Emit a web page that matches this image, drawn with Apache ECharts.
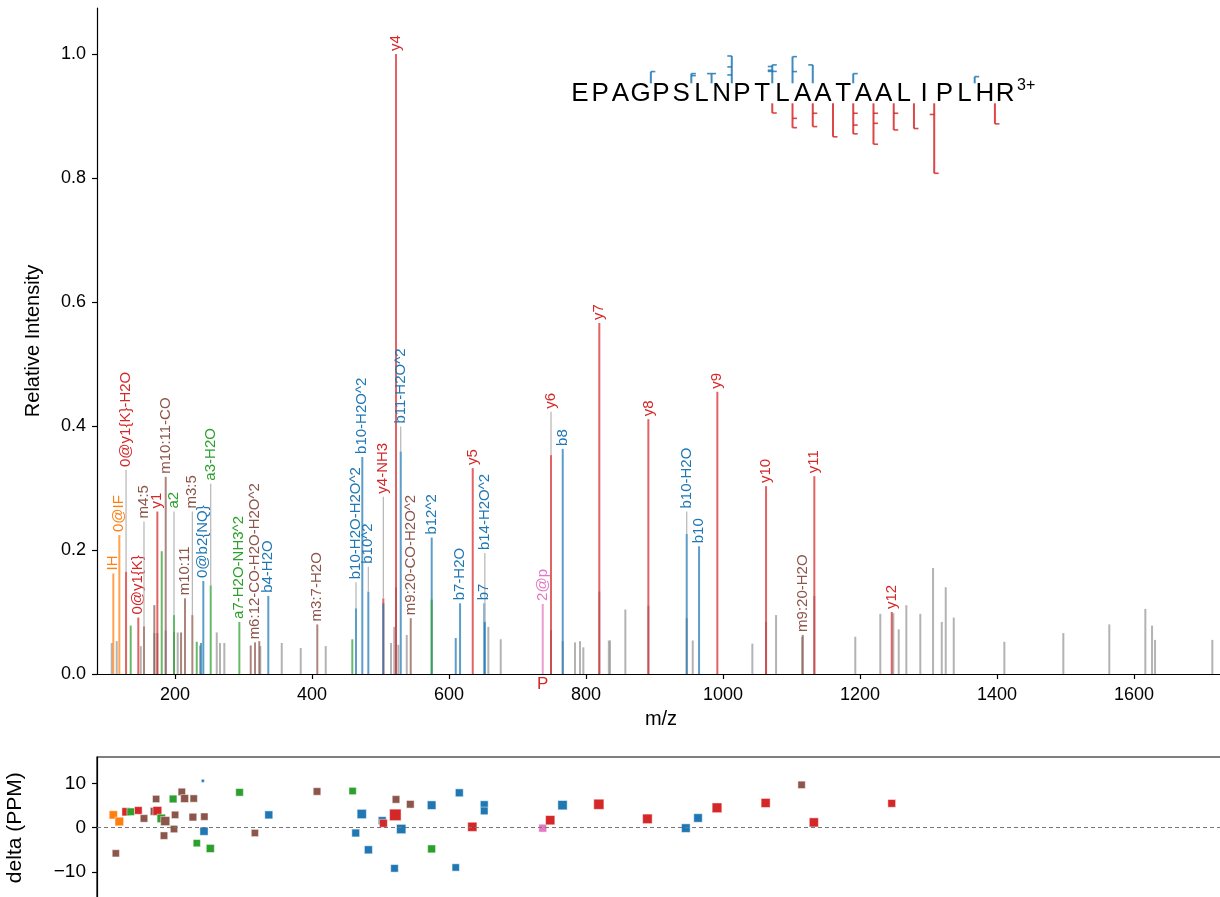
<!DOCTYPE html>
<html><head><meta charset="utf-8">
<script src="https://cdn.jsdelivr.net/npm/echarts@6/dist/echarts.min.js"></script>
<style>html,body{margin:0;padding:0;background:#fff}#c{width:1220px;height:897px}</style>
</head><body><div id="c"></div>
<script>
// ---------- DATA ----------
// unassigned peaks
const unMz  = [107.6,114.9,150,169.8,174.2,186.4,198.5,203.9,236.5,260.9,265.7,272,324.5,355.8,383.5,420,515.3,520.1,522.6,526,538.3,657.4,675.5,748.9,766,783.9,791.2,796.1,819.4,833.3,835,857.4,891,947,955.8,1042.8,1062.8,1077.4,1115.5,1133.3,1193.1,1229.6,1248.6,1256.5,1267.6,1288,1306.6,1319.3,1325.1,1336.8,1410.7,1496.8,1563.9,1616.5,1626.3,1630.7,1714.3];
const unInt = [0.05,0.053,0.045,0.066,0.066,0.07,0.068,0.067,0.046,0.067,0.05,0.05,0.045,0.05,0.042,0.045,0.05,0.076,0.14,0.047,0.063,0.076,0.056,0.071,0.053,0.051,0.053,0.043,0.133,0.054,0.054,0.104,0.11,0.09,0.054,0.049,0.084,0.095,0.06,0.126,0.06,0.097,0.098,0.072,0.111,0.097,0.171,0.084,0.14,0.091,0.052,0.066,0.08,0.105,0.078,0.055,0.055];

// annotated peaks
const annMz    = [109.9,118.7,128.5,135.3,146.4,154.7,169.8,174.2,180.6,186.4,198.5,208.8,214.6,225.3,231.7,238,241.3,252.1,293.9,310.5,316.8,323,336.2,407.7,458.8,464.2,473.4,482.2,504.1,504.1,522.6,529.5,544.1,574.7,574.7,609.8,616.1,634.6,652.3,651.5,736.8,748.9,766,819.4,891,947,965,991.7,1062.8,1116.4,1133.3,1246.3];
const annInt   = [0.162,0.224,0.165,0.078,0.091,0.077,0.111,0.262,0.198,0.318,0.095,0.067,0.122,0.095,0.052,0.05,0.15,0.143,0.084,0.046,0.051,0.053,0.126,0.08,0.056,0.106,0.35,0.133,0.122,0.114,1.0,0.359,0.09,0.22,0.12,0.058,0.114,0.332,0.084,0.114,0.113,0.353,0.363,0.566,0.411,0.226,0.206,0.455,0.303,0.063,0.319,0.1];
const annType  = ['IH','IH','y','a','y','int','int','y','a','int','a','int','int','int','a','b','b','a','a','int','int','int','b','int','a','b','b','b','y','b','y','b','int','b','a','b','b','y','b','b','p','y','b','y','y','b','b','y','y','int','y','y'];
const annLabel = ['IH','0@IF','0@y1{K}-H2O','','0@y1{K}','m4:5','','y1','','m10:11-CO','a2','','m10:11','m3:5','','','0@b2{NQ}','a3-H2O','a7-H2O-NH3^2','','m6:12-CO-H2O-H2O^2','','b4-H2O','m3:7-H2O','','b10-H2O-H2O^2','b10-H2O^2','b10^2','y4-NH3','','y4','b11-H2O^2','m9:20-CO-H2O^2','b12^2','','','b7-H2O','y5','b14-H2O^2','b7','2@p','y6','b8','y7','y8','b10-H2O','b10','y9','y10','m9:20-H2O','y11','y12'];
const annLabelAt = [0,0,0.329,0,0,0.246,0,0,0,0,0.262,0,0,0.262,0,0,0,0.307,0,0,0,0,0,0,0,0.148,0,0.173,0.286,0,0,0.399,0,0,0,0,0,0,0.195,0,0,0.423,0,0,0,0.262,0,0,0,0,0,0];

const precursorMz = 736.7;

// mass errors (bottom panel)
const errMz   = [109.9,118.7,113.6,128.5,135.3,146.4,154.7,172.4,169.6,174.2,180.0,185.7,183.9,197.2,198.5,200.1,209.9,214.0,226.1,227.3,231.8,240.6,242.8,242.3,251.5,294.2,316.6,336.9,407.3,459.3,463.8,472.6,482.3,502.5,504.2,520.4,521.6,522.6,530.2,543.5,574.6,574.6,609.8,615.0,634.0,651.4,651.4,736.8,747.7,765.7,818.7,889.6,945.7,963.5,991.2,1062.2,1114.7,1132.6,1246.3];
const errPpm  = [2.9,1.4,-5.8,3.6,3.6,3.9,2.1,6.5,3.7,3.8,2.1,1.5,-1.8,6.5,-0.3,2.9,8.1,6.6,2.4,6.6,-3.5,10.6,2.5,-0.8,-4.7,8.0,-1.2,2.9,8.2,8.3,-1.2,3.1,-5.0,1.6,1.0,-9.2,2.9,6.4,-0.3,5.3,-4.8,5.1,-9.0,7.9,0.2,5.2,3.8,-0.1,1.7,5.1,5.3,2.0,-0.1,2.2,4.5,5.6,9.7,1.2,5.5];
const errType = ['IH','IH','int','y','a','y','int','int','int','y','a','int','int','a','int','int','int','int','int','int','a','b','int','b','a','a','int','b','int','a','b','b','b','b','y','b','y','int','b','int','a','b','b','b','y','b','b','p','y','b','y','y','b','b','y','y','int','y','y'];
const errInt  = [0.162,0.224,0.05,0.165,0.078,0.091,0.077,0.05,0.111,0.262,0.198,0.318,0.07,0.095,0.06,0.06,0.067,0.122,0.095,0.06,0.052,0.0,0.06,0.15,0.143,0.084,0.051,0.126,0.08,0.056,0.106,0.35,0.133,0.114,0.122,0.08,1.0,0.08,0.359,0.09,0.12,0.22,0.058,0.114,0.332,0.114,0.084,0.113,0.353,0.363,0.566,0.411,0.226,0.206,0.455,0.303,0.063,0.319,0.1];

// peptide and fragment markers [ionType, ionNumber, intensity, tickDirection]
const peptide = 'EPAGPSLNPTLAATAALIPLHR';
const charge = '3+';
const fragMarks = [
  ['b',4,0.13,1],['b',6,0.1,1],['b',6,0.07,1],['b',7,0.1,0],
  ['b',8,0.363,-1],['b',8,0.2,-1],['b',8,0.08,-1],
  ['b',10,0.23,1],['b',10,0.206,-1],['b',10,0.15,-1],['b',10,0.133,0],
  ['b',11,0.353,1],['b',11,0.13,1],['b',12,0.23,-1],['b',14,0.1,1],['b',20,0.055,1],
  ['y',12,0.1,1],['y',11,0.319,1],['y',11,0.18,1],['y',10,0.303,1],['y',10,0.104,1],
  ['y',9,0.455,1],['y',8,0.411,1],['y',8,0.28,1],['y',8,0.104,1],
  ['y',7,0.566,1],['y',7,0.254,1],['y',7,0.104,1],['y',6,0.353,1],['y',6,0.104,1],
  ['y',5,0.332,1],['y',4,1.0,1],['y',4,0.122,-1],['y',1,0.262,1]
];

const xTicks = [200,400,600,800,1000,1200,1400,1600];
const yTicks = [0,0.2,0.4,0.6,0.8,1.0];
const errTicks = [-10,0,10];

// ---------- STYLE ----------
const typeColor = {y:'#d62728', b:'#1f77b4', a:'#2ca02c', IH:'#ff7f0e', int:'#8c564b', p:'#e377c2', u:'#9a9a9a'};
const FONT = 'Liberation Sans';
const X_MIN = 86.1, X_MAX = 1732.8;

const peakData = [];
unMz.forEach((m,i)=>peakData.push([m, unInt[i], 'u']));
annMz.forEach((m,i)=>peakData.push([m, annInt[i], annType[i]]));
const labelData = annMz.map((m,i)=>[m, annInt[i], i]).filter(d=>annLabel[d[2]]);

function peakRender(params, api){
  const d = peakData[params.dataIndex];
  const p0 = api.coord([d[0],0]), p1 = api.coord([d[0],d[1]]);
  return {type:'line', shape:{x1:p0[0],y1:p0[1],x2:p1[0],y2:p1[1]},
    style:{stroke:typeColor[d[2]], lineWidth:2, opacity: d[2]==='u'?0.75:0.72}};
}
function labelRender(params, api){
  const d = labelData[params.dataIndex];
  const i = d[2];
  const col = typeColor[annType[i]];
  const p1 = api.coord([d[0],d[1]]);
  const children = [];
  let top = p1[1];
  if (annLabelAt[i] > d[1]) {
    const pl = api.coord([d[0], annLabelAt[i]]);
    children.push({type:'line', shape:{x1:p1[0],y1:p1[1],x2:pl[0],y2:pl[1]}, style:{stroke:'#b5b5b5', lineWidth:1.2}});
    top = pl[1];
  }
  children.push({type:'text', x:p1[0], y:top-3, rotation:Math.PI/2,
    style:{text:annLabel[i], fill:col, fontSize:15, fontFamily:FONT, align:'left', verticalAlign:'middle'}});
  return {type:'group', children};
}
function precRender(params, api){
  const p = api.coord([api.value(0),0]);
  return {type:'text', x:p[0], y:p[1]+2, style:{text:'P', fill:'#d62728', fontSize:17, fontFamily:FONT, align:'center', verticalAlign:'top'}};
}

// peptide graphic
const graphics = [];
const LX0 = 580, LSTEP = 20.24, LY = 94, BBASE = 83.3, YBASE = 103.3;
for (let i=0;i<peptide.length;i++){
  graphics.push({type:'text', x:LX0+i*LSTEP, y:LY, style:{text:peptide[i], fill:'#000', fontSize:26, fontFamily:FONT, align:'center', verticalAlign:'middle'}});
}
graphics.push({type:'text', x:LX0+(peptide.length-1)*LSTEP+12, y:86, style:{text:charge, fill:'#000', fontSize:16, fontFamily:FONT, align:'left', verticalAlign:'middle'}});
const groups = {};
fragMarks.forEach(f=>{ const k=f[0]+f[1]; (groups[k]=groups[k]||[]).push(f); });
Object.keys(groups).forEach(k=>{
  const fs = groups[k];
  const t = fs[0][0], n = fs[0][1];
  const col = typeColor[t];
  const x = t==='b' ? LX0 + (n-1)*LSTEP + LSTEP/2 : LX0 + (peptide.length-1-n)*LSTEP + LSTEP/2;
  const sgn = t==='b' ? -1 : 1;
  const base = t==='b' ? BBASE : YBASE;
  const maxLen = Math.max(...fs.map(f=>3+67*f[2]));
  graphics.push({type:'line', shape:{x1:x,y1:base,x2:x,y2:base+sgn*maxLen}, style:{stroke:col, lineWidth:2, opacity:0.85}});
  fs.forEach(f=>{
    const yy = base + sgn*(3+67*f[2]);
    const dir = f[3];
    const x1 = dir<0 ? x-4.5 : (dir>0 ? x : x-4.5);
    const x2 = dir<0 ? x : x+4.5;
    graphics.push({type:'line', shape:{x1:x1,y1:yy,x2:x2,y2:yy}, style:{stroke:col, lineWidth:1.6, opacity:0.85}});
  });
});

const errData = errMz.map((m,i)=>({value:[m, errPpm[i]], symbolSize: errInt[i]<=0.001 ? 3 : 6+5.5*Math.sqrt(errInt[i]),
  itemStyle:{color:typeColor[errType[i]], opacity:1, borderColor:'rgba(255,255,255,0.6)', borderWidth:0.8}}));

const axisTxt = {color:'#000', fontFamily:FONT, fontSize:18};
const option = {
  animation:false,
  backgroundColor:'#fff',
  grid:[
    {left:97, top:8, width:1128, height:666, containLabel:false, outerBoundsMode:'none'},
    {left:97, top:757, width:1128, height:141.4, show:true, borderColor:'#000', borderWidth:1.2, backgroundColor:'transparent', containLabel:false, outerBoundsMode:'none'}
  ],
  xAxis:[
    {type:'value', gridIndex:0, min:X_MIN, max:X_MAX, name:'m/z', nameLocation:'middle', nameGap:35,
      nameTextStyle:{color:'#000', fontFamily:FONT, fontSize:20},
      axisLine:{lineStyle:{color:'#000', width:1.2}}, axisTick:{length:5, lineStyle:{color:'#000', width:1.2}, customValues:xTicks},
      axisLabel:Object.assign({margin:12, customValues:xTicks, formatter:v=>String(v)}, axisTxt), splitLine:{show:false}},
    {type:'value', gridIndex:1, min:X_MIN, max:X_MAX, axisLine:{show:false}, axisTick:{show:false}, axisLabel:{show:false}, splitLine:{show:false}}
  ],
  yAxis:[
    {type:'value', gridIndex:0, min:0, max:1.074, name:'Relative Intensity', nameLocation:'middle', nameGap:54, nameRotate:90,
      nameTextStyle:{color:'#000', fontFamily:FONT, fontSize:20},
      axisLine:{show:true, lineStyle:{color:'#000', width:1.2}}, axisTick:{show:true, length:5, lineStyle:{color:'#000', width:1.2}, customValues:yTicks},
      axisLabel:Object.assign({margin:11, customValues:yTicks, formatter:v=>v.toFixed(1)}, axisTxt), splitLine:{show:false}},
    {type:'value', gridIndex:1, min:-16, max:16, name:'delta (PPM)', nameLocation:'middle', nameGap:71, nameRotate:90,
      nameTextStyle:{color:'#000', fontFamily:FONT, fontSize:21},
      axisLine:{show:true, lineStyle:{color:'#000', width:1.2}}, axisTick:{show:true, length:5, lineStyle:{color:'#000', width:1.2}, customValues:errTicks},
      axisLabel:{margin:11, customValues:errTicks, color:'#000', fontFamily:FONT, fontSize:19, formatter:v=> v<0 ? '\u2212'+Math.abs(v) : String(v)}, splitLine:{show:false}}
  ],
  series:[
    {type:'custom', xAxisIndex:0, yAxisIndex:0, renderItem:peakRender, data:peakData.map(d=>[d[0],d[1]]), z:2, silent:true},
    {type:'custom', xAxisIndex:0, yAxisIndex:0, renderItem:labelRender, data:labelData.map(d=>[d[0],d[1]]), z:3, silent:true},
    {type:'custom', xAxisIndex:0, yAxisIndex:0, renderItem:precRender, data:[[precursorMz]], z:3, silent:true, clip:false},
    {type:'scatter', xAxisIndex:1, yAxisIndex:1, symbol:'rect', data:errData, z:3, silent:true,
      markLine:{silent:true, symbol:'none', label:{show:false}, lineStyle:{color:'#777', type:[4,3], width:1}, data:[{yAxis:0}]}}
  ],
  graphic:graphics
};
const chart = echarts.init(document.getElementById('c'), null, {renderer:'canvas'});
chart.setOption(option);
</script></body></html>
